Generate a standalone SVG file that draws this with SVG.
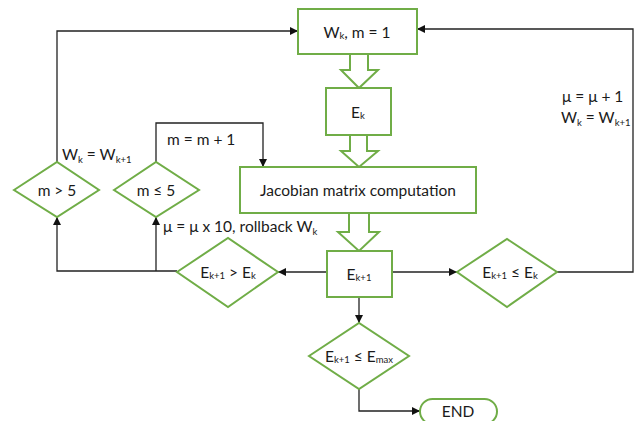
<svg xmlns="http://www.w3.org/2000/svg" width="638" height="421" viewBox="0 0 638 421">
<defs>
<marker id="ah" viewBox="0 0 10 10" refX="10" refY="5" markerWidth="8" markerHeight="8" markerUnits="userSpaceOnUse" orient="auto">
<path d="M0,0 L10,5 L0,10 z" fill="#111"/>
</marker>
<style>
.n{fill:#fff;stroke:#70AD47;stroke-width:2}
.c{fill:none;stroke:#222;stroke-width:1.3}
text{font-family:Lato,"Open Sans","Liberation Sans",sans-serif;font-size:15.5px;fill:#1a1a1a}
.m{text-anchor:middle;dominant-baseline:central}
.s{font-size:9.5px}
</style>
</defs>
<rect width="638" height="421" fill="#fff"/>
<g id="connectors">
<path class="c" d="M57,162 V31 H298" marker-end="url(#ah)"/>
<path class="c" d="M156,162 V123 H263 V167" marker-end="url(#ah)"/>
<path class="c" d="M177,271 H57 V217" marker-end="url(#ah)"/>
<path class="c" d="M156,271 V217" marker-end="url(#ah)"/>
<path class="c" d="M327,272 H278" marker-end="url(#ah)"/>
<path class="c" d="M392,272 H457" marker-end="url(#ah)"/>
<path class="c" d="M557,272 H633 V29 H417" marker-end="url(#ah)"/>
<path class="c" d="M359,297 V323" marker-end="url(#ah)"/>
<path class="c" d="M359,389 V411 H420" marker-end="url(#ah)"/>
<polygon class="n" points="350,54 368,54 368,70 378,70 359,88 341,70 350,70"/>
<polygon class="n" points="350,135 367,135 367,151 378,151 359,167 341,151 350,151"/>
<polygon class="n" points="349,213 369,213 369,232 379,232 359,251 338,232 349,232"/>
<text x="62" y="160">W<tspan class="s" dy="3">k</tspan><tspan dy="-3"> = W</tspan><tspan class="s" dy="3">k+1</tspan></text>
<text x="167" y="145">m = m + 1</text>
<text x="163" y="232">μ = μ x 10, rollback W<tspan class="s" dy="3">k</tspan></text>
<text x="562" y="102">μ = μ + 1</text>
<text x="561" y="123">W<tspan class="s" dy="3">k</tspan><tspan dy="-3"> = W</tspan><tspan class="s" dy="3">k+1</tspan></text>
</g>
<g id="init">
<rect class="n" x="298" y="9" width="119" height="45"/>
<text class="m" x="357" y="32">W<tspan class="s" dy="3">k</tspan><tspan dy="-3">, m = 1</tspan></text>
</g>
<g id="ek">
<rect class="n" x="326" y="88" width="65" height="47"/>
<text class="m" x="358" y="112">E<tspan class="s" dy="3">k</tspan></text>
</g>
<g id="jacobian">
<rect class="n" x="240" y="167" width="236" height="46"/>
<text class="m" x="358" y="190">Jacobian matrix computation</text>
</g>
<g id="ek1">
<rect class="n" x="327" y="251" width="65" height="46"/>
<text class="m" x="359" y="274">E<tspan class="s" dy="3">k+1</tspan></text>
</g>
<g id="dec-greater">
<polygon class="n" points="177,272 228,238 278,272 228,307"/>
<text class="m" x="228" y="272">E<tspan class="s" dy="3">k+1</tspan><tspan dy="-3"> &gt; E</tspan><tspan class="s" dy="3">k</tspan></text>
</g>
<g id="dec-less">
<polygon class="n" points="457,272 507,239 557,272 507,307"/>
<text class="m" x="510" y="272">E<tspan class="s" dy="3">k+1</tspan><tspan dy="-3"> ≤ E</tspan><tspan class="s" dy="3">k</tspan></text>
</g>
<g id="dec-emax">
<polygon class="n" points="309,356 359,323 409,356 359,389"/>
<text class="m" x="359" y="356">E<tspan class="s" dy="3">k+1</tspan><tspan dy="-3"> ≤ E</tspan><tspan class="s" dy="3">max</tspan></text>
</g>
<g id="m-gt">
<polygon class="n" points="14,190 57,162 99,190 57,217"/>
<text class="m" x="57" y="190">m &gt; 5</text>
</g>
<g id="m-le">
<polygon class="n" points="114,190 156,162 199,190 156,217"/>
<text class="m" x="156" y="190">m ≤ 5</text>
</g>
<g id="end">
<rect class="n" x="420" y="399" width="77" height="25" rx="12.5"/>
<text class="m" x="458" y="411">END</text>
</g>
</svg>
